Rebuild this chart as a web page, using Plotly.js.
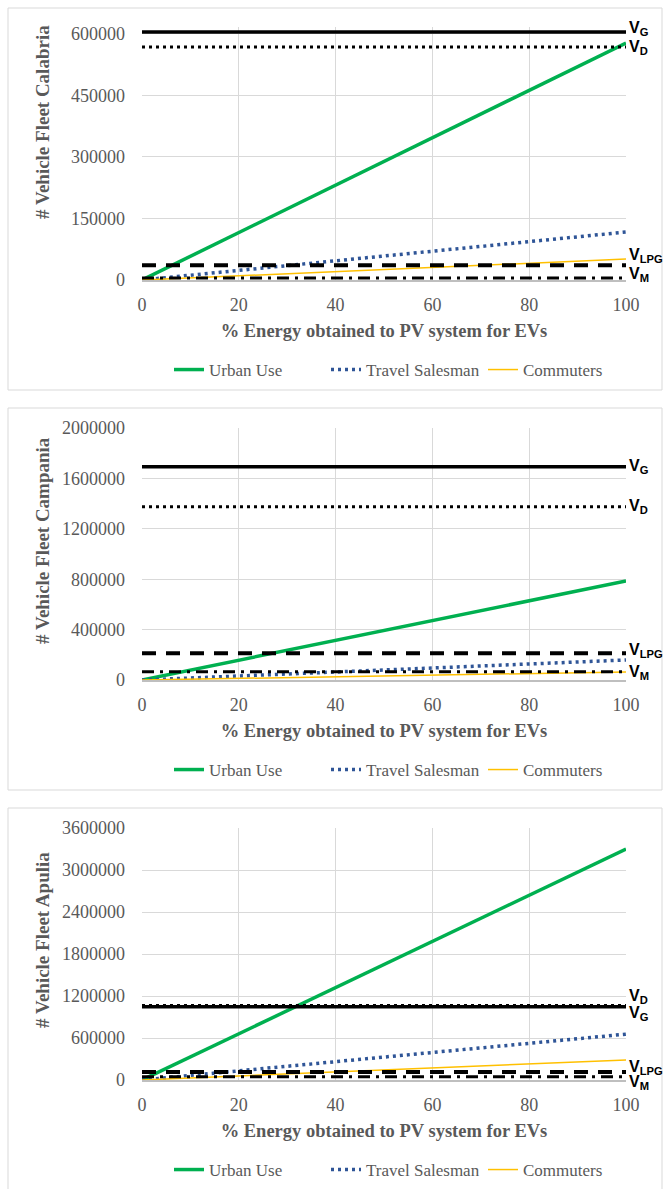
<!DOCTYPE html>
<html>
<head>
<meta charset="utf-8">
<script src="https://cdn.plot.ly/plotly-3.0.1.min.js"></script>
<style>html,body{margin:0;padding:0;background:#fff;}#chart{width:663px;height:1189px;}</style>
</head>
<body>
<div id="chart"></div>
<script>
// ---- data ----
const pct = [0, 100];
const seriesNames = ['Urban Use', 'Travel Salesman', 'Commuters'];
const regions = ['Calabria', 'Campania', 'Apulia'];
const xTitle = '% Energy obtained to PV system for EVs';
const yTitlePrefix = '# Vehicle Fleet ';

// Calabria
const calUrban = [0, 578000];
const calTravel = [0, 117000];
const calCommuters = [0, 51000];
const calVG = 605000, calVD = 568000, calVLPG = 36000, calVM = 5000;

// Campania
const camUrban = [0, 786000];
const camTravel = [0, 159000];
const camCommuters = [0, 64000];
const camVG = 1693000, camVD = 1375000, camVLPG = 212000, camVM = 66000;

// Apulia
const apuUrban = [0, 3300000];
const apuTravel = [0, 655000];
const apuCommuters = [0, 286000];
const apuVG = 1045000, apuVD = 1065000, apuVLPG = 114000, apuVM = 45000;

const xTicks = [0, 20, 40, 60, 80, 100];
const yMax = [617000, 2000000, 3600000];
const yStep = [150000, 400000, 600000];

// ---- styling ----
const W = 663, H = 1189;
const serif = 'Liberation Serif';
const sans = 'Liberation Sans';
const gray = '#595959';
const grid = '#d9d9d9';

const panels = [
  {urban: calUrban, travel: calTravel, comm: calCommuters, V: {G: calVG, D: calVD, LPG: calVLPG, M: calVM},
   top: 27, bottom: 280, legendY: 370, box: [8, 390], ytitleY: 122,
   shifts: {G: 3, D: 0, LPG: 10, M: 3}},
  {urban: camUrban, travel: camTravel, comm: camCommuters, V: {G: camVG, D: camVD, LPG: camVLPG, M: camVM},
   top: 428, bottom: 680, legendY: 770, box: [408, 790], ytitleY: 541,
   shifts: {G: 0, D: 0, LPG: 3, M: -1}},
  {urban: apuUrban, travel: apuTravel, comm: apuCommuters, V: {G: apuVG, D: apuVD, LPG: apuVLPG, M: apuVM},
   top: 828, bottom: 1080, legendY: 1170, box: [808, 1200], ytitleY: 940,
   shifts: {G: -7, D: 9, LPG: 5, M: -6}}
];

const vStyles = {
  G: {color: '#000', width: 3.5, dash: 'solid'},
  D: {color: '#000', width: 3, dash: '3px,4px'},
  LPG: {color: '#000', width: 4, dash: '14px,10px'},
  M: {color: '#000', width: 3, dash: '12px,6px,3px,6px'}
};

const traces = [];
const layout = {
  width: W, height: H,
  margin: {l: 0, r: 0, t: 0, b: 0},
  paper_bgcolor: '#fff', plot_bgcolor: '#fff',
  font: {family: serif, color: gray},
  shapes: [], annotations: []
};

panels.forEach((p, i) => {
  const n = i === 0 ? '' : String(i + 1);
  const xa = 'x' + n, ya = 'y' + n;
  const lg = 'legend' + n;
  const lines = [
    {y: p.urban, name: seriesNames[0], line: {color: '#00b050', width: 3.5}},
    {y: p.travel, name: seriesNames[1], line: {color: '#2f5597', width: 3.5, dash: '3px,4px'}},
    {y: p.comm, name: seriesNames[2], line: {color: '#ffc000', width: 1.5}}
  ];
  lines.forEach(l => traces.push({
    x: pct, y: l.y, name: l.name, type: 'scatter', mode: 'lines', line: l.line,
    xaxis: xa, yaxis: ya, legend: lg, showlegend: true, hoverinfo: 'skip'
  }));
  Object.keys(vStyles).forEach(k => {
    traces.push({
      x: pct, y: [p.V[k], p.V[k]], type: 'scatter', mode: 'lines', line: vStyles[k],
      xaxis: xa, yaxis: ya, showlegend: false, hoverinfo: 'skip'
    });
    layout.annotations.push({
      xref: xa, yref: ya, x: 100, y: p.V[k], xanchor: 'left', yanchor: 'middle',
      xshift: 1, yshift: p.shifts[k], showarrow: false,
      text: '<b>V<sub>' + k + '</sub></b>',
      font: {family: sans, size: 16, color: '#000'}
    });
  });
  // y axis title (rotated)
  layout.annotations.push({
    xref: 'paper', yref: 'paper', x: 42 / W, y: 1 - p.ytitleY / H,
    xanchor: 'center', yanchor: 'middle', textangle: -90, showarrow: false,
    text: '<b>' + yTitlePrefix + regions[i] + '</b>',
    font: {family: serif, size: 19, color: gray}
  });
  layout['xaxis' + n] = {
    domain: [142 / W, 626 / W], anchor: ya, range: [0, 100],
    tickvals: xTicks, ticktext: xTicks.map(String),
    showgrid: true, gridcolor: grid, gridwidth: 1,
    showline: true, linecolor: '#bfbfbf', linewidth: 1.5,
    zeroline: false, ticks: '', ticklabelstandoff: 8,
    tickfont: {family: serif, size: 18, color: gray},
    title: {text: '<b>' + xTitle + '</b>', standoff: 10,
            font: {family: serif, size: 18.5, color: gray}},
    fixedrange: true
  };
  layout['yaxis' + n] = {
    domain: [1 - p.bottom / H, 1 - p.top / H], anchor: xa,
    range: [0, yMax[i]], dtick: yStep[i], tick0: 0, tickformat: 'd',
    showgrid: true, gridcolor: grid, gridwidth: 1,
    zeroline: false, showline: false, ticks: '', ticklabelstandoff: 16,
    tickfont: {family: serif, size: 18, color: gray},
    fixedrange: true
  };
  layout[lg] = {
    orientation: 'h', xref: 'paper', yref: 'paper',
    x: 169 / W, xanchor: 'left', y: 1 - p.legendY / H, yanchor: 'middle',
    font: {family: serif, size: 17, color: gray},
    bgcolor: 'rgba(0,0,0,0)', entrywidth: 112, itemwidth: 30
  };
  layout.shapes.push({
    type: 'rect', xref: 'paper', yref: 'paper', layer: 'below',
    x0: 8 / W, x1: 662 / W, y0: 1 - p.box[1] / H, y1: 1 - p.box[0] / H,
    line: {color: '#d9d9d9', width: 1}, fillcolor: 'rgba(0,0,0,0)'
  });
});

Plotly.newPlot('chart', traces, layout, {displayModeBar: false, staticPlot: true});
</script>
</body>
</html>
